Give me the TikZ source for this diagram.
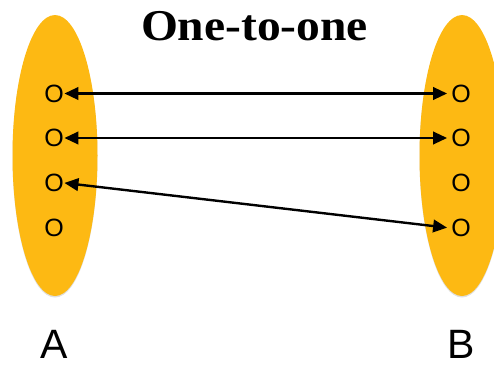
\documentclass[tikz,border=0pt]{standalone}
\usepackage{fontspec}
\setmainfont{Liberation Sans}
\newfontfamily\titlefont{Liberation Serif}
\usetikzlibrary{arrows.meta,shadows,shapes.geometric}
\definecolor{setfill}{RGB}{253,185,19}
\begin{document}
\begin{tikzpicture}[x=1pt,y=-1pt,
  setshape/.style={ellipse,fill=setfill,minimum width=85pt,minimum height=281pt,inner sep=0pt,
    drop shadow={opacity=0.25,shadow xshift=0pt,shadow yshift=-1.5pt}},
  elem/.style={font=\fontsize{25}{25}\selectfont,inner sep=1pt},
  lab/.style={font=\fontsize{41}{41}\selectfont,anchor=base,inner sep=0pt,text depth=0pt},
  map/.style={line width=2.4pt,{Triangle[length=14pt,width=12.5pt]}-{Triangle[length=14pt,width=12.5pt]},shorten >=3pt,shorten <=-0.5pt}]
\useasboundingbox (0,0) rectangle (494,367);
\begin{scope}
\clip (0,0) rectangle (494,367);
\node[setshape] (A) at (55,155.5) {};
\node[setshape] (B) at (462,155.5) {};
\end{scope}
\node[elem] (a1) at (54,93.5) {O};
\node[elem] (a2) at (54,138) {O};
\node[elem] (a3) at (54,183) {O};
\node[elem] (a4) at (54,228) {O};
\node[elem] (b1) at (461,93.5) {O};
\node[elem] (b2) at (461,138) {O};
\node[elem] (b3) at (461,183) {O};
\node[elem] (b4) at (461,228) {O};
\draw[map] (a1.east) -- (b1.west);
\draw[map] (a2.east) -- (b2.west);
\draw[map] (a3.east) -- (b4.west);
\node[lab] (la) at (54,358) {A};
\node[lab] (lb) at (461.5,358) {B};
\node[anchor=base,inner sep=0pt,text depth=0pt,font=\titlefont\bfseries\fontsize{44}{44}\selectfont] (title) at (254.5,40) {\scalebox{1.08}[1]{One-to-one}};
\end{tikzpicture}
\end{document}
